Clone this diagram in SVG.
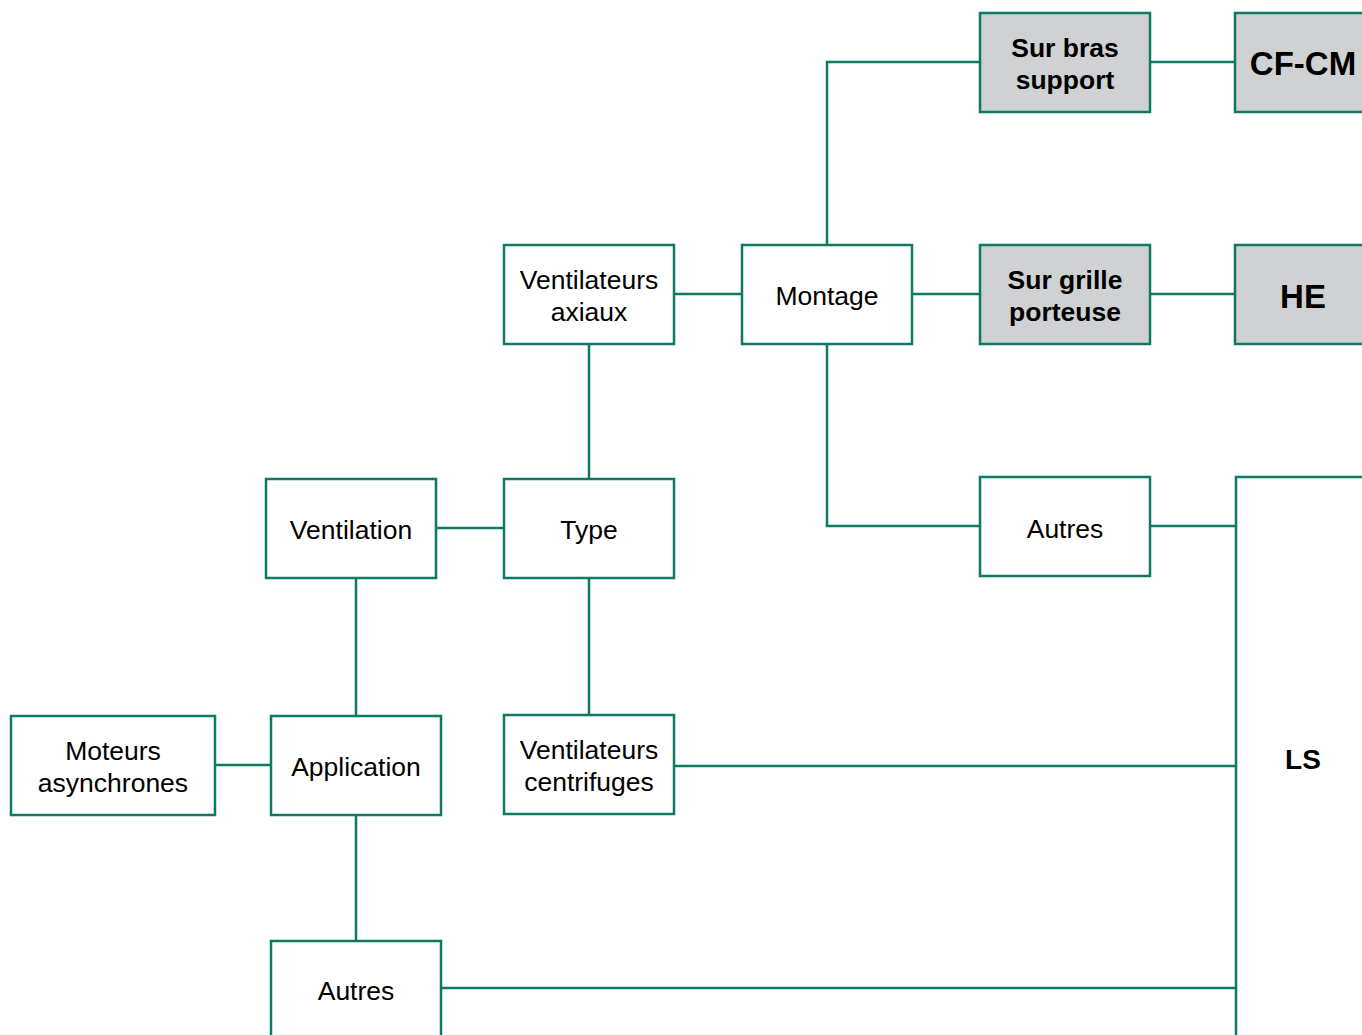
<svg xmlns="http://www.w3.org/2000/svg" width="1362" height="1035" viewBox="0 0 1362 1035">
<style>
.b{fill:#fff;stroke:#0e7a62;stroke-width:2.5}
.g{fill:#d0d1d3;stroke:#0e7a62;stroke-width:2.5}
.c{fill:none;stroke:#0e7a62;stroke-width:2.5}
text{font-family:"Liberation Sans",Arial,sans-serif;font-size:26.5px;fill:#000;text-anchor:middle}
.bd{font-weight:bold}
.big{font-weight:bold;font-size:33px}
</style>
<rect width="1362" height="1035" fill="#fff"/>
<g id="connectors" class="c">
<path d="M827 245V62H980"/>
<path d="M1150 62H1235"/>
<path d="M674 294H742"/>
<path d="M912 294H980"/>
<path d="M1150 294H1235"/>
<path d="M827 344V526H980"/>
<path d="M1150 526H1236"/>
<path d="M589 344V479"/>
<path d="M436 528H504"/>
<path d="M589 578V715"/>
<path d="M356 578V716"/>
<path d="M215 765H271"/>
<path d="M356 815V941"/>
<path d="M674 766H1236"/>
<path d="M441 988H1236"/>
</g>
<g id="sur-bras"><rect class="g" x="980" y="13" width="170" height="99"/><text class="bd" x="1065" y="57">Sur bras</text><text class="bd" x="1065" y="89">support</text></g>
<g id="cfcm"><rect class="g" x="1235" y="13" width="140" height="99"/><text class="big" x="1303" y="75">CF-CM</text></g>
<g id="sur-grille"><rect class="g" x="980" y="245" width="170" height="99"/><text class="bd" x="1065" y="289">Sur grille</text><text class="bd" x="1065" y="321">porteuse</text></g>
<g id="he"><rect class="g" x="1235" y="245" width="140" height="99"/><text class="big" x="1303" y="308">HE</text></g>
<g id="autres-r"><rect class="b" x="980" y="477" width="170" height="99"/><text x="1065" y="538">Autres</text></g>
<g id="ls"><rect class="b" x="1236" y="477" width="140" height="580"/><text class="bd" x="1303" y="769" style="font-size:28px">LS</text></g>
<g id="vent-axiaux"><rect class="b" x="504" y="245" width="170" height="99"/><text x="589" y="289">Ventilateurs</text><text x="589" y="321">axiaux</text></g>
<g id="montage"><rect class="b" x="742" y="245" width="170" height="99"/><text x="827" y="305">Montage</text></g>
<g id="ventilation"><rect class="b" x="266" y="479" width="170" height="99"/><text x="351" y="539">Ventilation</text></g>
<g id="type"><rect class="b" x="504" y="479" width="170" height="99"/><text x="589" y="539">Type</text></g>
<g id="moteurs"><rect class="b" x="11" y="716" width="204" height="99"/><text x="113" y="760">Moteurs</text><text x="113" y="792">asynchrones</text></g>
<g id="application"><rect class="b" x="271" y="716" width="170" height="99"/><text x="356" y="776">Application</text></g>
<g id="vent-centrifuges"><rect class="b" x="504" y="715" width="170" height="99"/><text x="589" y="759">Ventilateurs</text><text x="589" y="791">centrifuges</text></g>
<g id="autres-b"><rect class="b" x="271" y="941" width="170" height="120"/><text x="356" y="1000">Autres</text></g>
</svg>
